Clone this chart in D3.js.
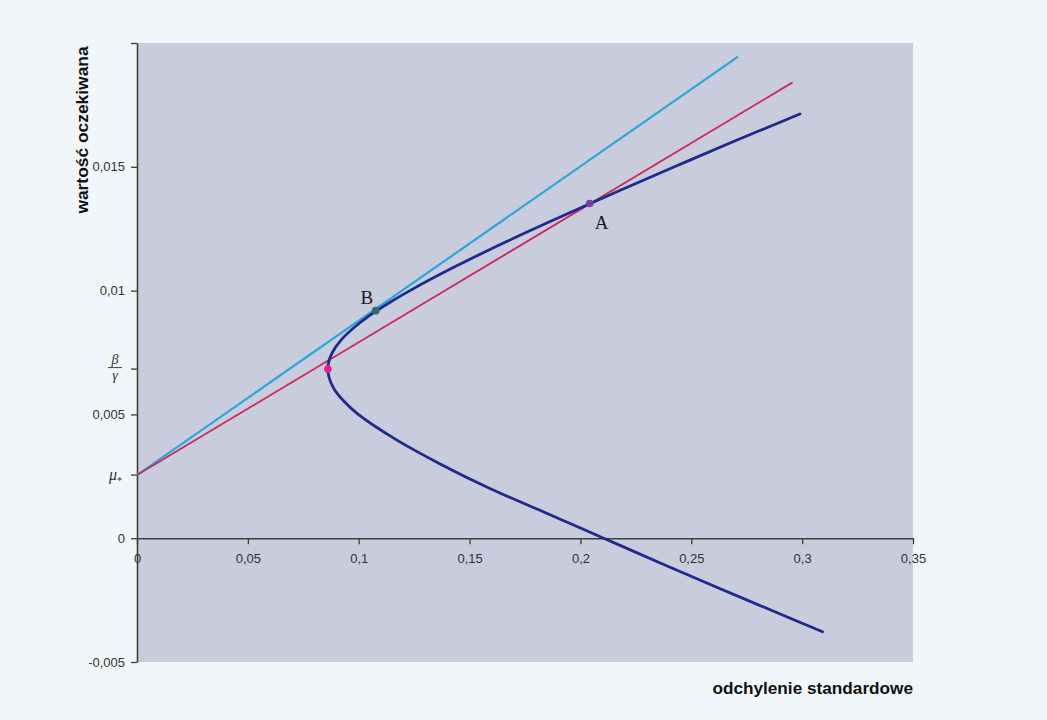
<!DOCTYPE html>
<html>
<head>
<meta charset="utf-8">
<script src="https://cdn.jsdelivr.net/npm/d3@7"></script>
<style>
  html, body { margin: 0; padding: 0; background: #f1f6fa; }
  svg { display: block; }
</style>
</head>
<body>
<svg id="chart" width="1047" height="720"></svg>
<script>
// ---- data ----
const xTicks = [0, 0.05, 0.1, 0.15, 0.2, 0.25, 0.3, 0.35];
const yTicks = [-0.005, 0, 0.005, 0.01, 0.015, 0.02];
const yTickLabels = ["-0,005", "0", "0,005", "0,01", "0,015", ""];
const muStar = 0.00255;      // μ*
const betaGamma = 0.00683;   // β/γ

// minimum-variance frontier (σ, μ)
const frontierSigma = [0.299, 0.2685, 0.2424, 0.2167, 0.1916, 0.1672, 0.1442, 0.1231, 0.1136, 0.1050, 0.0978, 0.0920, 0.0881, 0.0862, 0.0866, 0.0891, 0.0937, 0.0998, 0.1165, 0.1367, 0.1594, 0.1850, 0.2105, 0.2360, 0.2620, 0.2885, 0.3092];
const frontierMu    = [0.01713, 0.016, 0.015, 0.014, 0.013, 0.012, 0.011, 0.010, 0.0095, 0.009, 0.0085, 0.008, 0.0075, 0.007, 0.0065, 0.006, 0.0055, 0.005, 0.004, 0.003, 0.002, 0.001, 0, -0.001, -0.002, -0.003, -0.00378];

// tangent line (cyan) and secant line (red), both from μ*
const cyanSigma = [0, 0.2711];
const cyanMu    = [0.00255, 0.01945];
const redSigma  = [0, 0.2957];
const redMu     = [0.00255, 0.01841];

// marked points
const pointNames = ["", "B", "A"];
const pointSigma = [0.0861, 0.1077, 0.2042];
const pointMu    = [0.00683, 0.00919, 0.01352];
const pointColors = ["#e81e8a", "#2e6a78", "#7a3aae"];

// ---- drawing ----
const svg = d3.select("#chart");
const x = d3.scaleLinear().domain([0, 0.35]).range([137, 913]);
const y = d3.scaleLinear().domain([-0.005, 0.02]).range([662, 43]);
const loc = d3.formatLocale({decimal: ",", thousands: " ", grouping: [3], currency: ["", ""]});

// plot area background
svg.append("rect")
  .attr("x", x(0)).attr("y", y(0.02))
  .attr("width", x(0.35) - x(0)).attr("height", y(-0.005) - y(0.02))
  .attr("fill", "#c9ccdc");

const axisColor = "#3b4232";
const font = "Liberation Sans, Arial, sans-serif";

// Y axis
const yAxis = d3.axisLeft(y).tickValues(yTicks).tickSize(6).tickSizeOuter(0)
  .tickFormat((d, i) => yTickLabels[i]);
const gy = svg.append("g").attr("transform", `translate(${x(0)},0)`).call(yAxis);
gy.select(".domain").attr("stroke", axisColor).attr("stroke-width", 1.6);
gy.selectAll(".tick line").attr("stroke", axisColor).attr("stroke-width", 1.3);
gy.selectAll(".tick text").attr("font-family", font).attr("font-size", 13).attr("fill", "#333").attr("x", -12);

// custom y ticks μ* and β/γ
[muStar, betaGamma].forEach(v => {
  svg.append("line").attr("x1", x(0) - 6).attr("x2", x(0)).attr("y1", y(v)).attr("y2", y(v))
    .attr("stroke", axisColor).attr("stroke-width", 1.3);
});
// μ*
const muT = svg.append("text").attr("x", 109).attr("y", y(muStar) + 5)
  .attr("font-family", "Liberation Serif, Times New Roman, serif").attr("font-size", 16).attr("fill", "#333")
  .attr("font-style", "italic");
muT.append("tspan").text("μ");
muT.append("tspan").attr("font-size", 10).attr("dy", 4).attr("font-style", "normal").text("*");
// β/γ fraction
const bg = svg.append("g").attr("font-family", "Liberation Serif, Times New Roman, serif").attr("font-style", "italic").attr("fill", "#333");
bg.append("text").attr("x", 115).attr("y", y(betaGamma) - 5).attr("text-anchor", "middle").attr("font-size", 14).text("β");
bg.append("line").attr("x1", 108).attr("x2", 122).attr("y1", y(betaGamma) - 1.5).attr("y2", y(betaGamma) - 1.5).attr("stroke", "#444").attr("stroke-width", 1);
bg.append("text").attr("x", 115).attr("y", y(betaGamma) + 11).attr("text-anchor", "middle").attr("font-size", 14).text("γ");

// X axis at y=0
const xAxis = d3.axisBottom(x).tickValues(xTicks).tickSize(6).tickSizeOuter(0)
  .tickFormat(d => loc.format("~g")(d));
const gx = svg.append("g").attr("transform", `translate(0,${y(0)})`).call(xAxis);
gx.select(".domain").attr("stroke", axisColor).attr("stroke-width", 1.6);
gx.selectAll(".tick line").attr("stroke", axisColor).attr("stroke-width", 1.3);
gx.selectAll(".tick text").attr("font-family", font).attr("font-size", 13).attr("fill", "#333").attr("y", 16);

// axis titles
svg.append("text").attr("x", 913).attr("y", 694).attr("text-anchor", "end")
  .attr("font-family", font).attr("font-weight", "bold").attr("font-size", 17.2).attr("fill", "#111")
  .text("odchylenie standardowe");
svg.append("text").attr("transform", "translate(88,130) rotate(-90)").attr("text-anchor", "middle")
  .attr("font-family", font).attr("font-weight", "bold").attr("font-size", 17.4).attr("fill", "#111")
  .text("wartość oczekiwana");

// lines
const lineGen = d3.line().x(d => x(d[0])).y(d => y(d[1]));
const lineGenC = d3.line().x(d => x(d[0])).y(d => y(d[1])).curve(d3.curveCatmullRom.alpha(0.5));

svg.append("path").datum(d3.zip(cyanSigma, cyanMu)).attr("d", lineGen)
  .attr("fill", "none").attr("stroke", "#2aa6dc").attr("stroke-width", 2.2);
svg.append("path").datum(d3.zip(redSigma, redMu)).attr("d", lineGen)
  .attr("fill", "none").attr("stroke", "#c82a5c").attr("stroke-width", 1.8);
svg.append("path").datum(d3.zip(frontierSigma, frontierMu)).attr("d", lineGenC)
  .attr("fill", "none").attr("stroke", "#1f2b8c").attr("stroke-width", 2.8).attr("stroke-linecap", "round");

// points
pointSigma.forEach((s, i) => {
  svg.append("circle").attr("cx", x(s)).attr("cy", y(pointMu[i])).attr("r", 3.8).attr("fill", pointColors[i]);
});
// labels A and B
const lblFont = "Liberation Serif, Times New Roman, serif";
svg.append("text").attr("x", x(pointSigma[1]) - 9).attr("y", y(pointMu[1]) - 7).attr("text-anchor", "middle")
  .attr("font-family", lblFont).attr("font-size", 19).attr("fill", "#1a1a1a").text(pointNames[1]);
svg.append("text").attr("x", x(pointSigma[2]) + 12).attr("y", y(pointMu[2]) + 26).attr("text-anchor", "middle")
  .attr("font-family", lblFont).attr("font-size", 19).attr("fill", "#1a1a1a").text(pointNames[2]);
</script>
</body>
</html>
